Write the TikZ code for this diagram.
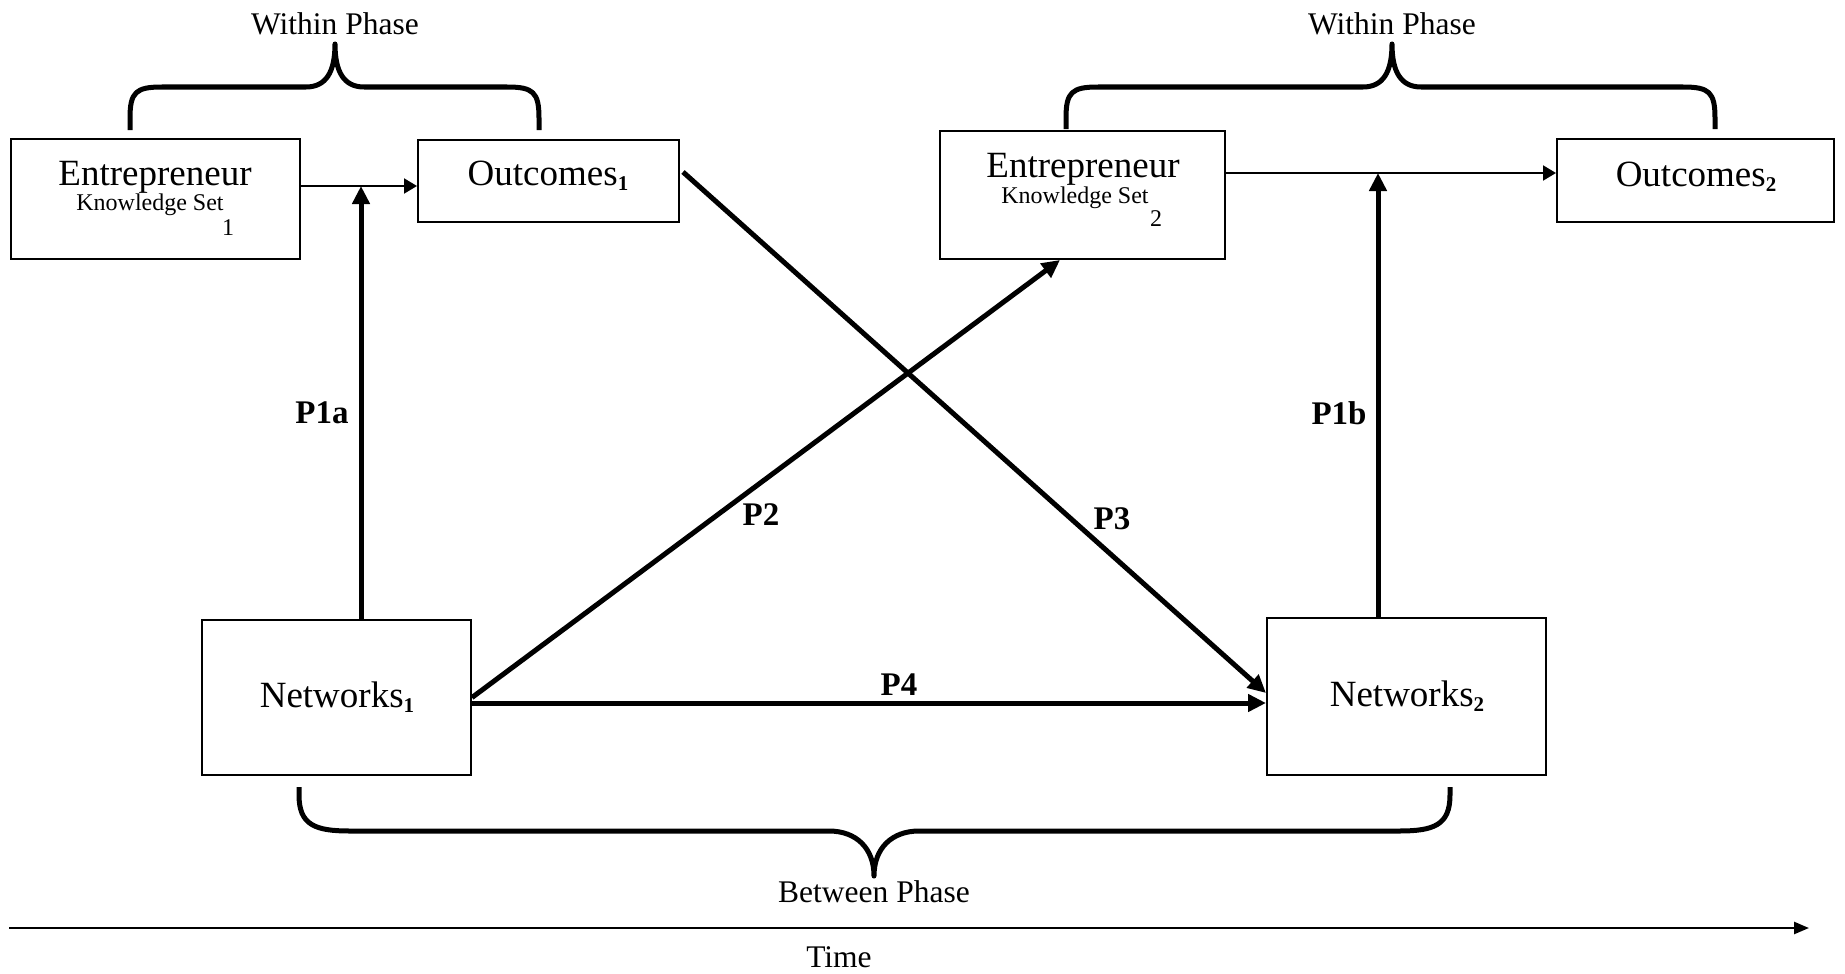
\documentclass[tikz,border=0pt]{standalone}
\usepackage{fontspec}
\setmainfont{Liberation Serif}
\usetikzlibrary{arrows.meta,calc}
\newcommand{\bsub}[1]{\raisebox{-5pt}{\fontsize{21}{21}\selectfont\bfseries #1}}
\tikzset{
  box/.style={draw, line width=2pt, inner sep=0pt},
  big/.style={inner sep=0pt, font=\fontsize{37}{40}\selectfont},
  small/.style={inner sep=0pt, font=\fontsize{24}{26}\selectfont},
  phase/.style={inner sep=0pt, font=\fontsize{31.5}{34}\selectfont},
  plab/.style={inner sep=0pt, font=\fontsize{33}{36}\selectfont\bfseries},
  thinarrow/.style={line width=2pt, -{Triangle[length=13pt,width=15pt]}},
  thickarrow/.style={line width=5pt, -{Triangle[length=18pt,width=17pt]}},
  timearrow/.style={line width=2.5pt, -{Triangle[length=15pt,width=12pt]}},
  bracestyle/.style={line width=5pt, line join=round}
}
\begin{document}
\begin{tikzpicture}[x=1pt,y=-1pt]
\useasboundingbox (0,0) rectangle (1845,974);

% boxes
\node[box, minimum width=289.4pt, minimum height=120pt] (e1) at (155.3,199) {};
\node[box, minimum width=261pt, minimum height=82pt] (o1) at (548.5,181) {};
\node[box, minimum width=269pt, minimum height=155pt] (n1) at (336.5,697.5) {};
\node[box, minimum width=285pt, minimum height=128pt] (e2) at (1082.5,195) {};
\node[box, minimum width=277pt, minimum height=83pt] (o2) at (1695.5,180.5) {};
\node[box, minimum width=279pt, minimum height=157pt] (n2) at (1406.5,696.5) {};

% box texts
\node[big, anchor=base] (e1t) at (155,185) {Entrepreneur};
\node[small, anchor=base] (e1k) at (150,210) {Knowledge Set};
\node[small, anchor=base] (e1n) at (228,235) {1};
\node[big, anchor=base] (o1t) at (548,185) {Outcomes\bsub{1}};
\node[big, anchor=base] (n1t) at (337,707) {Networks\bsub{1}};
\node[big, anchor=base] (e2t) at (1083,177) {Entrepreneur};
\node[small, anchor=base] (e2k) at (1075,203) {Knowledge Set};
\node[small, anchor=base] (e2n) at (1156,226) {2};
\node[big, anchor=base] (o2t) at (1696,186) {Outcomes\bsub{2}};
\node[big, anchor=base] (n2t) at (1407,706) {Networks\bsub{2}};

% connectors
\coordinate (j1) at (361,186);
\coordinate (j2) at (1378,173);
\draw[thinarrow] (e1.east |- j1) -- (o1.west |- j1);
\draw[thickarrow] (n1.north -| j1) -- (j1);
\draw[thinarrow] (e2.east |- j2) -- (o2.west |- j2);
\draw[thickarrow] (n2.north -| j2) -- (j2);

\coordinate (p2e) at ($(e2.south)+(-22.5,0)$);
\draw[thickarrow] (n1.east) -- (p2e);
\coordinate (p3s) at ($(o1.east)+(3,-9)$);
\coordinate (p3e) at ($(n2.west)+(0,-3.5)$);
\draw[thickarrow] (p3s) -- (p3e);
\coordinate (p4s) at ($(n1.east)+(0,5.5)$);
\draw[thickarrow] (p4s) -- (p4s -| n2.west);

% labels
\node[plab] (p1a) at (322,413) {P1a};
\node[plab] (p1b) at (1339,413) {P1b};
\node[plab] (p2) at (761,515) {P2};
\node[plab] (p3) at (1112,519) {P3};
\node[plab] (p4) at (899,685) {P4};

% braces
\draw[bracestyle] (130,130) -- (130,118) .. controls (130,92) and (136,87) .. (162,87) -- (306,87)
  .. controls (326,87) and (335,72) .. (335,44) .. controls (335,72) and (344,87) .. (364,87)
  -- (507,87) .. controls (533,87) and (539,92) .. (539,118) -- (539,130);
\draw[bracestyle] (1066,129) -- (1066,118) .. controls (1066,92) and (1072,87) .. (1098,87) -- (1363,87)
  .. controls (1383,87) and (1392,72) .. (1392,44) .. controls (1392,72) and (1401,87) .. (1421,87)
  -- (1683,87) .. controls (1709,87) and (1715,92) .. (1715,118) -- (1715,129);
\draw[bracestyle] (299,787) -- (299,795) .. controls (299,825) and (315,831) .. (350,831) -- (829,831)
  .. controls (856,831) and (874,848) .. (874,876) .. controls (874,848) and (892,831) .. (919,831)
  -- (1399,831) .. controls (1434,831) and (1450,825) .. (1450,795) -- (1450,787);

\node[phase] (w1) at (335,24) {Within Phase};
\node[phase] (w2) at (1392,24) {Within Phase};
\node[phase] (bp) at (874,892) {Between Phase};

% time axis
\coordinate (ts) at (9,928);
\coordinate (te) at (1809,928);
\draw[timearrow] (ts) -- (te);
\node[phase] (time) at (839,957) {Time};
\end{tikzpicture}
\end{document}
